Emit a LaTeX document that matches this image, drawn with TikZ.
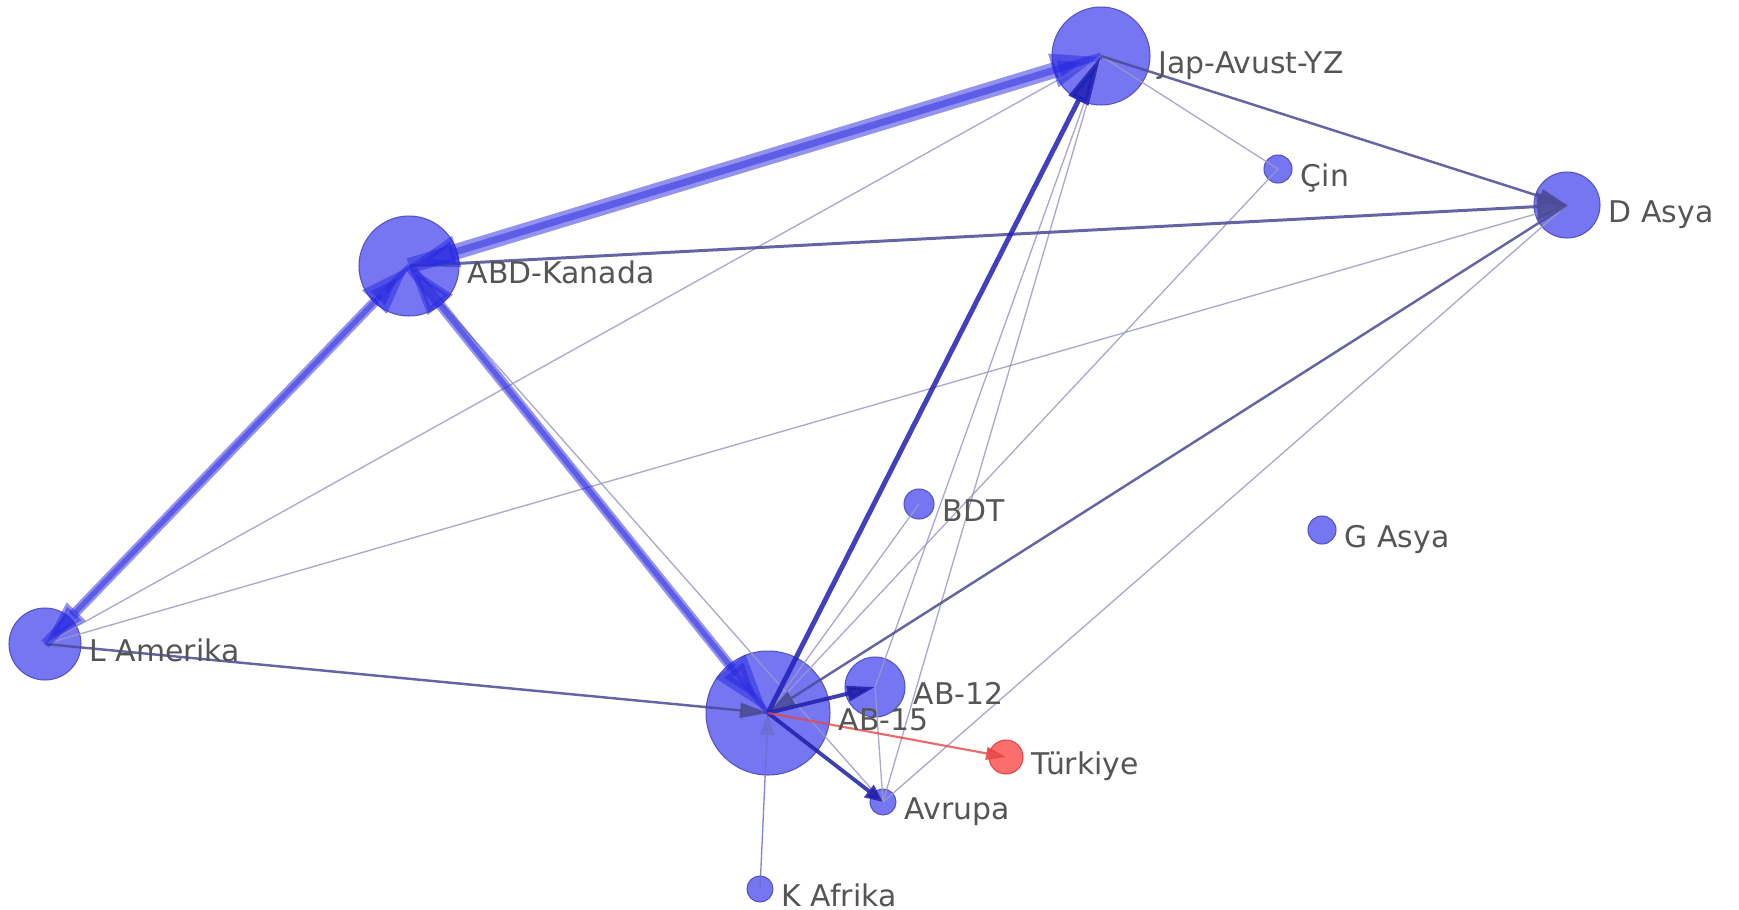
\documentclass[tikz,border=0pt]{standalone}
\usepackage{fontspec}
\setmainfont{DejaVu Sans}
\usetikzlibrary{arrows.meta}

\definecolor{dugum}{RGB}{118,118,242}
\definecolor{dugumkenar}{RGB}{82,82,195}
\definecolor{kalin}{RGB}{40,40,225}
\definecolor{koyu}{RGB}{75,75,150}
\definecolor{ince}{RGB}{155,155,198}
\definecolor{kirmizi}{RGB}{230,70,70}
\definecolor{turk}{RGB}{250,110,110}
\definecolor{etiketgri}{RGB}{85,85,85}

\begin{document}
\begin{tikzpicture}[x=0.02cm, y=-0.02cm,
  ulke/.style={circle, draw=dugumkenar, line width=0.6pt, fill=dugum, inner sep=0pt, minimum size=#1*0.04cm},
  etiket/.style={anchor=base west, inner sep=0pt, text=etiketgri, font=\fontsize{17}{20}\selectfont},
  incekol/.style={draw=ince, line width=0.75pt, opacity=0.85},
  koyukol/.style={draw=koyu, line width=#1, opacity=0.85, -{Triangle[length=0.56cm, width=0.3cm]}},
  kalinkol/.style={draw=kalin, line width=#1, opacity=0.5, -{Triangle[length=1cm, width=0.62cm]}}
]
\fill[white] (0,0) rectangle (1739,910);

% ulkeler
\node[ulke=49] (jap) at (1101,56) {};
\node[ulke=50] (abd) at (409,266) {};
\node[ulke=14] (cin) at (1278,169) {};
\node[ulke=33] (dasya) at (1567,205) {};
\node[ulke=36] (lam) at (45,644) {};
\node[ulke=62] (ab15) at (768,713) {};
\node[ulke=30] (ab12) at (875,687) {};
\node[ulke=17, fill=turk, draw=kirmizi] (tur) at (1006,757) {};
\node[ulke=13] (avr) at (883,802) {};
\node[ulke=13] (kaf) at (760,889) {};
\node[ulke=15] (bdt) at (919,504) {};
\node[ulke=14] (gasya) at (1322,530) {};

%%%%%%%%%%%%%%%%%%%%%%%%
\foreach \p/\q in {jap/cin, jap/lam, dasya/lam, dasya/avr, abd/avr,
                   jap/ab12, jap/avr, ab12/avr, cin/ab15, bdt/ab15}{
   \draw[incekol] (\p.center) -- (\q.center);
}
\draw[incekol, draw=kalin!40!ince, -{Triangle[length=0.44cm, width=0.28cm]}] (kaf.center) -- (ab15.center);

\draw[koyukol=1.7pt, -{Triangle[length=0.6cm, width=0.56cm]}] (abd.center) -- (dasya.center);
\draw[koyukol=1.4pt] (jap.center) -- (dasya.center);
\draw[koyukol=1.4pt] (dasya.center) -- (ab15.center);
\draw[koyukol=1.4pt] (lam.center) -- (ab15.center);
\draw[koyukol=2.2pt, draw=kalin!75!black] (ab15.center) -- (ab12.center);
\draw[koyukol=2.2pt, draw=kalin!75!black, -{Triangle[length=0.36cm, width=0.3cm]}] (ab15.center) -- (avr.center);
\draw[koyukol=2.8pt, draw=kalin!80!black, -{Triangle[length=1cm, width=0.42cm]}] (ab15.center) -- (jap.center);
\draw[kirmizi, line width=1.2pt, opacity=0.8, -{Triangle[length=0.4cm, width=0.26cm]}] (ab15.center) -- (tur.center);

%%%%%%%%%%%%%%%%%%%%%%%%
\draw[kalinkol=9pt] (abd.center) -- (jap.center);
\draw[kalinkol=4pt] (jap.center) -- (abd.center);
\draw[kalinkol=5.7pt] (lam.center) -- (abd.center);
\draw[kalinkol=3pt, -{Triangle[length=0.9cm, width=0.5cm]}] (abd.center) -- (lam.center);
\draw[kalinkol=5.7pt, -{Triangle[length=1.2cm, width=0.7cm]}] (abd.center) -- (ab15.center);
\draw[kalinkol=3pt] (ab15.center) -- (abd.center);

% etiketler
\foreach \d/\m in {jap/Jap-Avust-YZ, abd/ABD-Kanada, cin/Çin, dasya/D Asya,
                   lam/L Amerika, ab15/AB-15, ab12/AB-12, tur/Türkiye,
                   avr/Avrupa, kaf/K Afrika, bdt/BDT, gasya/G Asya}{
   \node[etiket] (t\d) at ([shift={(8,17)}]\d.east) {\m};
}
\end{tikzpicture}
\end{document}
